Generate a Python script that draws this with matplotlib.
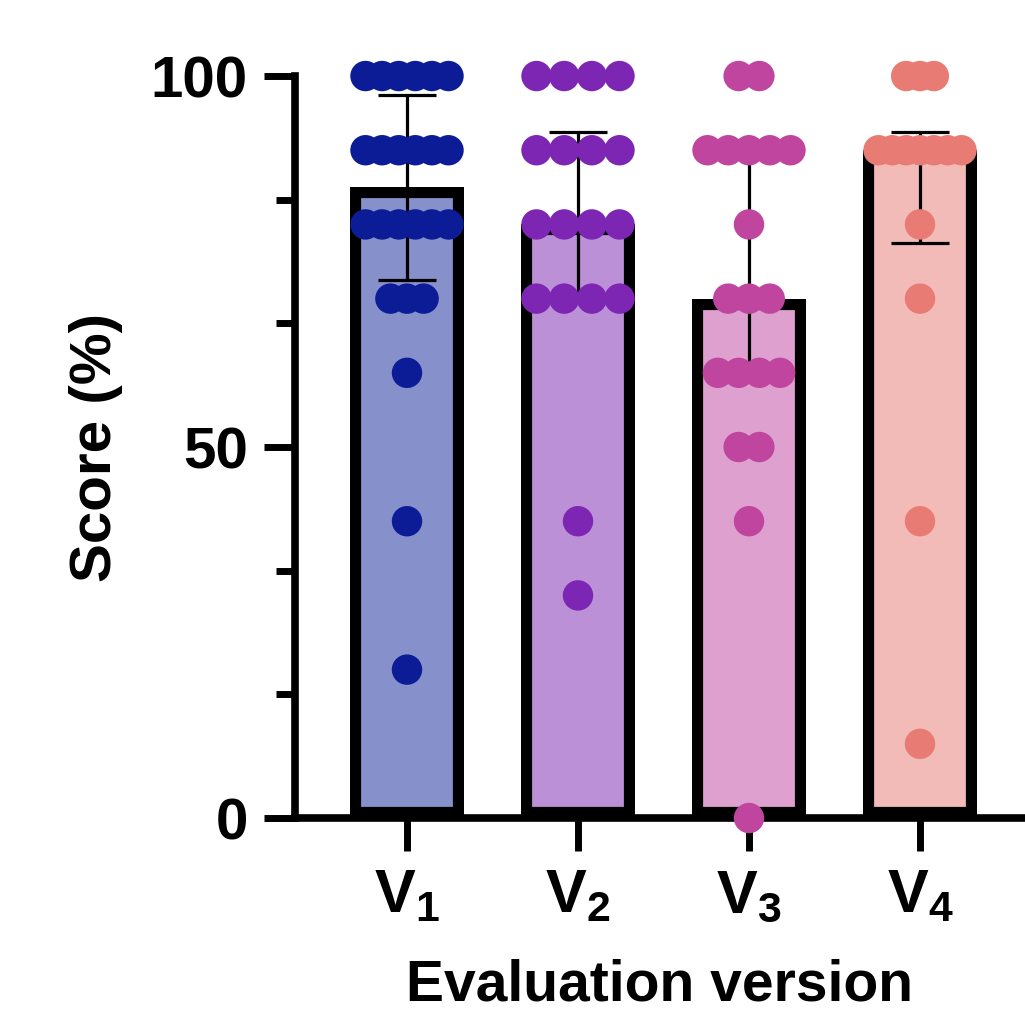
import numpy as np
import matplotlib
matplotlib.use('Agg')
import matplotlib.pyplot as plt
from matplotlib.ticker import FixedLocator

plt.rcParams['font.family'] = ['Liberation Sans', 'DejaVu Sans']
plt.rcParams['font.weight'] = 'bold'
plt.rcParams['mathtext.fontset'] = 'custom'
plt.rcParams['mathtext.rm'] = 'Liberation Sans:bold'
plt.rcParams['mathtext.bf'] = 'Liberation Sans:bold'
plt.rcParams['mathtext.it'] = 'Liberation Sans:bold'

# scores per evaluation version (%)
labels = [r'$\mathbf{V_1}$', r'$\mathbf{V_2}$', r'$\mathbf{V_3}$', r'$\mathbf{V_4}$']
v1 = [100, 100, 100, 100, 100, 100, 90, 90, 90, 90, 90, 90,
      80, 80, 80, 80, 80, 80, 70, 70, 70, 60, 40, 20]
v2 = [100, 100, 100, 100, 90, 90, 90, 90, 80, 80, 80, 80,
      70, 70, 70, 70, 40, 30]
v3 = [100, 100, 90, 90, 90, 90, 90, 80, 70, 70, 70,
      60, 60, 60, 60, 50, 50, 40, 0]
v4 = [100, 100, 100, 90, 90, 90, 90, 90, 90, 90, 80, 70, 40, 10]
groups = [v1, v2, v3, v4]

dot_colors = ['#0c1c96', '#7d26b4', '#bf459f', '#e87c74']
fill_colors = ['#8690ca', '#bc90d6', '#dea1cf', '#f2bbb8']

fig = plt.figure(figsize=(10.25, 10.22), dpi=100)
ax = fig.add_axes([0.2878, 0.1996, 0.7122, 0.7260])

x = np.arange(len(groups))
# median with interquartile range
medians = [np.percentile(g, 50, method='weibull') for g in groups]
q1 = [np.percentile(g, 25, method='weibull') for g in groups]
q3 = [np.percentile(g, 75, method='weibull') for g in groups]

bars = ax.bar(x, medians, width=0.667, color=fill_colors, edgecolor='black',
              linewidth=16, zorder=1)
for b in bars:
    b.set_clip_path(b)  # keep border inside the bar

ax.errorbar(x, medians, yerr=[np.array(medians) - q1, np.array(q3) - medians],
            fmt='none', ecolor='black', elinewidth=2.3, capsize=21, capthick=2.3,
            zorder=2)

# scatter points, spread horizontally per row
spread = 83.0 / 171.0
for i, g in enumerate(groups):
    vals, counts = np.unique(g, return_counts=True)
    step = spread / (counts.max() - 1)
    xs, ys = [], []
    for v, c in zip(vals, counts):
        for k in range(c):
            xs.append(i + (k - (c - 1) / 2.0) * step)
            ys.append(v)
    ax.scatter(xs, ys, s=480, color=dot_colors[i], edgecolors='none',
               zorder=3, clip_on=False)

ax.set_xlim(-0.655, 3.614)
ax.set_ylim(0, 100)
ax.set_xticks(x)
ax.set_xticklabels(labels, fontsize=44)
ax.yaxis.set_major_locator(FixedLocator([0, 50, 100]))
ax.yaxis.set_minor_locator(FixedLocator([100 / 6.0 * k for k in (1, 2, 4, 5)]))
ax.tick_params(axis='y', which='major', labelsize=42, length=22, width=5, pad=12)
ax.tick_params(axis='y', which='minor', length=14, width=5)
ax.tick_params(axis='x', which='major', length=24, width=5, pad=12)

for s in ['top', 'right']:
    ax.spines[s].set_visible(False)
for s in ['left', 'bottom']:
    ax.spines[s].set_linewidth(5.5)
    ax.spines[s].set_capstyle('projecting')

ax.set_ylabel('Score (%)', fontsize=42, fontweight='bold', labelpad=20)
ax.set_xlabel('Evaluation version', fontsize=41, fontweight='bold', labelpad=24)

fig.savefig('out.png', dpi=100)
